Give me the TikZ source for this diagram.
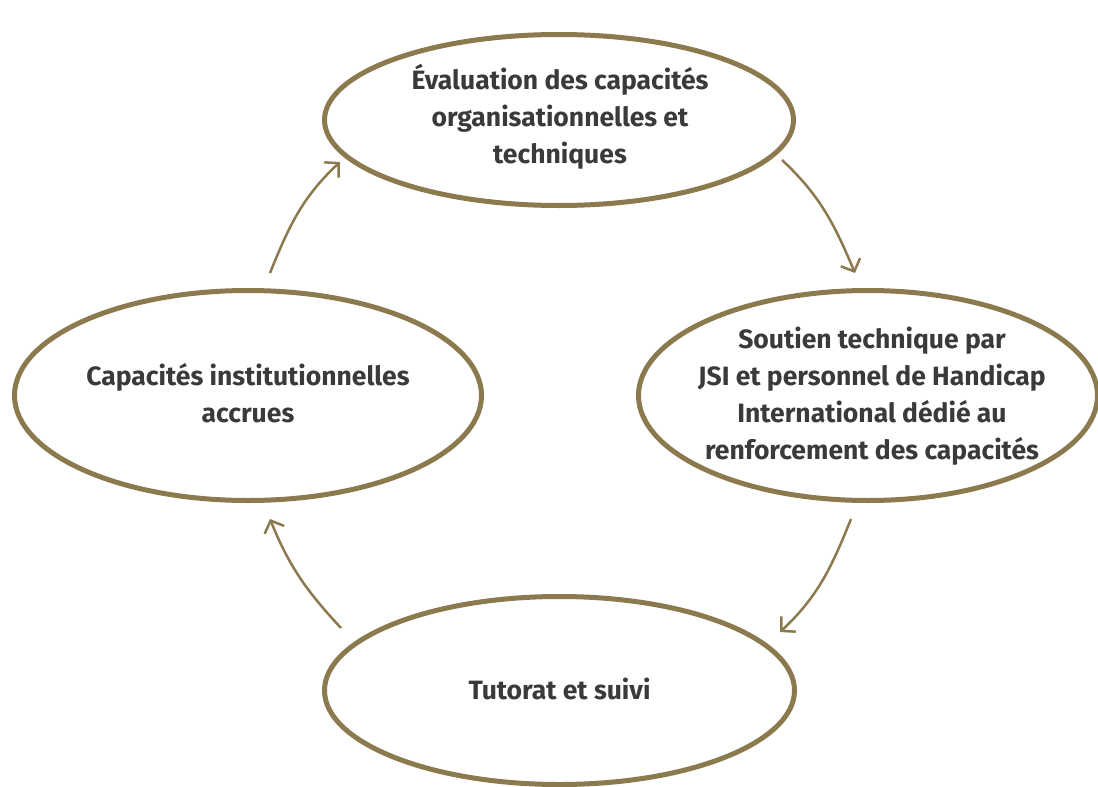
\documentclass[tikz,border=0pt]{standalone}
\usepackage{fontspec}
\setmainfont{Fira Sans}
\usetikzlibrary{shapes.geometric,arrows.meta}
\definecolor{gold}{HTML}{8B7A4E}
\definecolor{ink}{HTML}{3A3A3C}
\tikzset{
  oval/.style={ellipse, draw=gold, line width=5pt, inner sep=0pt},
  label text/.style={align=center, inner sep=0pt, text=ink,
    font=\fontsize{26.5}{37}\selectfont\bfseries},
  flow/.style={draw=gold, line width=2.5pt, -{Straight Barb[length=10pt,width=21pt]}}
}
\begin{document}
\begin{tikzpicture}[x=1pt,y=-1pt]
\useasboundingbox (0,0) rectangle (1098,787);
\node[oval, minimum width=469pt, minimum height=171pt] (top) at (559,120) {};
\node[label text] (toptext) at (560,117)
  {Évaluation des capacités\\organisationnelles et\\techniques};
\node[oval, minimum width=467pt, minimum height=210pt] (left) at (248,395.5) {};
\node[label text] (lefttext) at (248,393)
  {Capacités institutionnelles\\accrues};
\node[oval, minimum width=459pt, minimum height=210pt] (right) at (868,395.5) {};
\node[label text] (righttext) at (872,396)
  {Soutien technique par\\JSI et personnel de Handicap\\International dédié au\\renforcement des capacités};
\node[oval, minimum width=470pt, minimum height=188pt] (bottom) at (559.5,690.5) {};
\node[label text] (bottomtext) at (559.5,689)
  {Tutorat et suivi};
\coordinate (a1s) at (270,273);
\coordinate (a1e) at (340,162);
\coordinate (a2s) at (782,160);
\coordinate (a2e) at (855,273);
\coordinate (a3s) at (851,519);
\coordinate (a3e) at (780,632);
\coordinate (a4s) at (341,628);
\coordinate (a4e) at (270,519);
\draw[flow] (a1s) to[out=68,in=223] (a1e);
\draw[flow] (a2s) to[out=-43,in=113] (a2e);
\draw[flow] (a3s) to[out=-112,in=43] (a3e);
\draw[flow] (a4s) to[out=133,in=-68] (a4e);
\end{tikzpicture}
\end{document}
